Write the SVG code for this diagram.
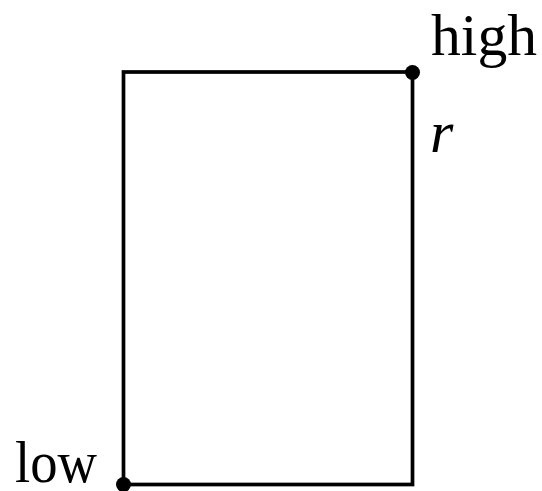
<svg xmlns="http://www.w3.org/2000/svg" width="542" height="491" viewBox="0 0 542 491">
<style>
.edge{fill:none;stroke:#000;stroke-width:3.7;stroke-linecap:square}
.dot{fill:#000}
.lbl{font-family:"Liberation Serif","DejaVu Serif",serif;font-size:60px;fill:#000}
.it{font-style:italic}
</style>
<rect width="542" height="491" fill="#fff"/>
<g id="connectors">
<rect class="edge" x="123.5" y="72" width="289" height="412.5"/>
</g>
<g id="high">
<circle class="dot" cx="412.5" cy="72.5" r="7.5"/>
<text class="lbl" x="431" y="55" textLength="106" lengthAdjust="spacingAndGlyphs">high</text>
</g>
<g id="r">
<text class="lbl it" x="430" y="151.5">r</text>
</g>
<g id="low">
<circle class="dot" cx="123.5" cy="484.5" r="7.5"/>
<text class="lbl" x="15" y="482" textLength="82" lengthAdjust="spacingAndGlyphs">low</text>
</g>
</svg>
